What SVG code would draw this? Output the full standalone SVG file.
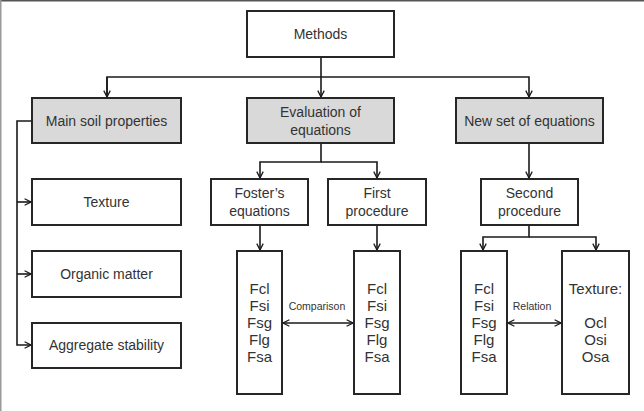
<svg xmlns="http://www.w3.org/2000/svg" width="644" height="411" viewBox="0 0 644 411">
<defs>
<marker id="ah" viewBox="0 0 10 10" refX="9" refY="5" markerWidth="8" markerHeight="8" markerUnits="userSpaceOnUse" orient="auto-start-reverse">
<path d="M1,1 L9,5 L1,9" fill="none" stroke="#1a1a1a" stroke-width="1.6"/>
</marker>
<style>
.b{fill:#fff;stroke:#262626;stroke-width:2}
.g{fill:#d9d9d9;stroke:#262626;stroke-width:2}
.t{font-family:"Liberation Sans",Arial,sans-serif;font-size:14px;fill:#333;text-anchor:middle}
.l{font-family:"Liberation Sans",Arial,sans-serif;font-size:15px;fill:#333;text-anchor:middle}
.s{font-family:"Liberation Sans",Arial,sans-serif;font-size:10.5px;fill:#333;text-anchor:middle}
.c{fill:none;stroke:#1a1a1a;stroke-width:1.6}
</style>
</defs>
<rect x="0" y="0" width="644" height="411" fill="#fff"/>
<line x1="0" y1="0.75" x2="644" y2="0.75" stroke="#555" stroke-width="1.5"/>
<line x1="0.75" y1="0" x2="0.75" y2="411" stroke="#999" stroke-width="1.5"/>

<g id="connectors">
<path class="c" d="M321,57 V97" marker-end="url(#ah)"/>
<path class="c" d="M107,97 V77 H529 V97" marker-end="url(#ah)"/>
<path class="c" d="M107,77 V97" marker-end="url(#ah)"/>
<path class="c" d="M32,121 H17 V345 H31" marker-end="url(#ah)"/>
<path class="c" d="M17,202 H31" marker-end="url(#ah)"/>
<path class="c" d="M17,274 H31" marker-end="url(#ah)"/>
<path class="c" d="M321,143 V162 H260 V178" marker-end="url(#ah)"/>
<path class="c" d="M321,162 H377 V178" marker-end="url(#ah)"/>
<path class="c" d="M260,225 V250" marker-end="url(#ah)"/>
<path class="c" d="M377,225 V250" marker-end="url(#ah)"/>
<path class="c" d="M529,143 V178" marker-end="url(#ah)"/>
<path class="c" d="M529,225 V237 H483 V250" marker-end="url(#ah)"/>
<path class="c" d="M529,237 H596 V250" marker-end="url(#ah)"/>
<path class="c" d="M283,323 H353" marker-start="url(#ah)" marker-end="url(#ah)"/>
<path class="c" d="M508,323 H561" marker-start="url(#ah)" marker-end="url(#ah)"/>
<text class="s" x="317" y="310">Comparison</text>
<text class="s" x="532" y="310">Relation</text>
</g>

<g id="methods"><rect class="b" x="247" y="11" width="147" height="46"/><text class="t" x="320.5" y="39">Methods</text></g>
<g id="main-soil"><rect class="g" x="32" y="98" width="149" height="45"/><text class="t" x="106.5" y="126">Main soil properties</text></g>
<g id="evaluation"><rect class="g" x="247" y="98" width="147" height="45"/><text class="t" x="320.5" y="117">Evaluation of</text><text class="t" x="320.5" y="135">equations</text></g>
<g id="new-set"><rect class="g" x="456" y="98" width="147" height="45"/><text class="t" x="529.5" y="126">New set of equations</text></g>
<g id="texture"><rect class="b" x="32" y="179" width="149" height="46"/><text class="t" x="106.5" y="207">Texture</text></g>
<g id="organic"><rect class="b" x="32" y="251" width="149" height="46"/><text class="t" x="106.5" y="279">Organic matter</text></g>
<g id="aggregate"><rect class="b" x="32" y="323" width="149" height="45"/><text class="t" x="106.5" y="350">Aggregate stability</text></g>
<g id="foster"><rect class="b" x="211" y="179" width="97" height="46"/><text class="t" x="259.5" y="198">Foster’s</text><text class="t" x="259.5" y="216">equations</text></g>
<g id="first"><rect class="b" x="328" y="179" width="98" height="46"/><text class="t" x="377" y="198">First</text><text class="t" x="377" y="216">procedure</text></g>
<g id="second"><rect class="b" x="481" y="179" width="97" height="46"/><text class="t" x="529.5" y="198">Second</text><text class="t" x="529.5" y="216">procedure</text></g>
<g id="f1"><rect class="b" x="237" y="251" width="45" height="143"/>
<text class="l" x="259.5" y="294">Fcl</text><text class="l" x="259.5" y="311">Fsi</text><text class="l" x="259.5" y="328">Fsg</text><text class="l" x="259.5" y="345">Flg</text><text class="l" x="259.5" y="362">Fsa</text></g>
<g id="f2"><rect class="b" x="354" y="251" width="46" height="143"/>
<text class="l" x="377" y="294">Fcl</text><text class="l" x="377" y="311">Fsi</text><text class="l" x="377" y="328">Fsg</text><text class="l" x="377" y="345">Flg</text><text class="l" x="377" y="362">Fsa</text></g>
<g id="f3"><rect class="b" x="461" y="251" width="46" height="143"/>
<text class="l" x="484" y="294">Fcl</text><text class="l" x="484" y="311">Fsi</text><text class="l" x="484" y="328">Fsg</text><text class="l" x="484" y="345">Flg</text><text class="l" x="484" y="362">Fsa</text></g>
<g id="texture-o"><rect class="b" x="562" y="251" width="67" height="143"/>
<text class="l" x="595.5" y="294">Texture:</text><text class="l" x="595.5" y="328">Ocl</text><text class="l" x="595.5" y="345">Osi</text><text class="l" x="595.5" y="362">Osa</text></g>
</svg>
